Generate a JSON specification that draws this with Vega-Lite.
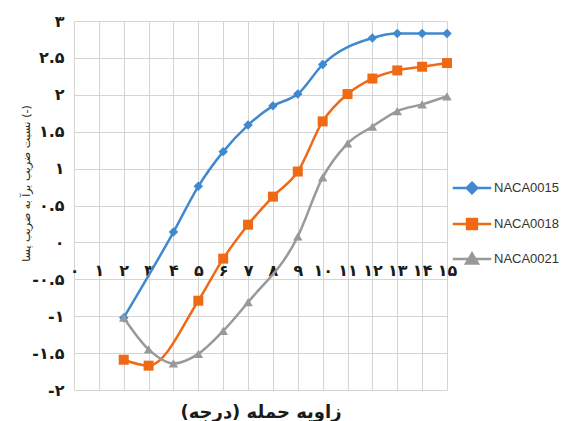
{
  "$schema": "https://vega.github.io/schema/vega-lite/v6.json",
  "width": 373,
  "height": 369,
  "autosize": {"type": "none"},
  "padding": {"left": 74, "top": 21, "right": 115, "bottom": 31},
  "background": "white",
  "config": {"view": {"stroke": null}, "font": "DejaVu Sans"},
  "data": {
    "values": [
      {"airfoil": "NACA0015", "angle": 2, "ratio": -1.02},
      {"airfoil": "NACA0015", "angle": 4, "ratio": 0.14},
      {"airfoil": "NACA0015", "angle": 5, "ratio": 0.76},
      {"airfoil": "NACA0015", "angle": 6, "ratio": 1.23},
      {"airfoil": "NACA0015", "angle": 7, "ratio": 1.59},
      {"airfoil": "NACA0015", "angle": 8, "ratio": 1.85},
      {"airfoil": "NACA0015", "angle": 9, "ratio": 2.01},
      {"airfoil": "NACA0015", "angle": 10, "ratio": 2.41},
      {"airfoil": "NACA0015", "angle": 12, "ratio": 2.77},
      {"airfoil": "NACA0015", "angle": 13, "ratio": 2.83},
      {"airfoil": "NACA0015", "angle": 14, "ratio": 2.83},
      {"airfoil": "NACA0015", "angle": 15, "ratio": 2.83},
      {"airfoil": "NACA0018", "angle": 2, "ratio": -1.59},
      {"airfoil": "NACA0018", "angle": 3, "ratio": -1.67},
      {"airfoil": "NACA0018", "angle": 5, "ratio": -0.79},
      {"airfoil": "NACA0018", "angle": 6, "ratio": -0.22},
      {"airfoil": "NACA0018", "angle": 7, "ratio": 0.24},
      {"airfoil": "NACA0018", "angle": 8, "ratio": 0.62},
      {"airfoil": "NACA0018", "angle": 9, "ratio": 0.96},
      {"airfoil": "NACA0018", "angle": 10, "ratio": 1.64},
      {"airfoil": "NACA0018", "angle": 11, "ratio": 2.01},
      {"airfoil": "NACA0018", "angle": 12, "ratio": 2.22},
      {"airfoil": "NACA0018", "angle": 13, "ratio": 2.33},
      {"airfoil": "NACA0018", "angle": 14, "ratio": 2.38},
      {"airfoil": "NACA0018", "angle": 15, "ratio": 2.43},
      {"airfoil": "NACA0021", "angle": 2, "ratio": -1.02},
      {"airfoil": "NACA0021", "angle": 3, "ratio": -1.45},
      {"airfoil": "NACA0021", "angle": 4, "ratio": -1.64},
      {"airfoil": "NACA0021", "angle": 5, "ratio": -1.51},
      {"airfoil": "NACA0021", "angle": 6, "ratio": -1.2},
      {"airfoil": "NACA0021", "angle": 7, "ratio": -0.81},
      {"airfoil": "NACA0021", "angle": 9, "ratio": 0.08},
      {"airfoil": "NACA0021", "angle": 10, "ratio": 0.88},
      {"airfoil": "NACA0021", "angle": 11, "ratio": 1.34},
      {"airfoil": "NACA0021", "angle": 12, "ratio": 1.57},
      {"airfoil": "NACA0021", "angle": 13, "ratio": 1.78},
      {"airfoil": "NACA0021", "angle": 14, "ratio": 1.87},
      {"airfoil": "NACA0021", "angle": 15, "ratio": 1.98}
    ]
  },
  "encoding": {
    "x": {
      "field": "angle",
      "type": "quantitative",
      "scale": {"domain": [0, 15], "nice": false, "zero": false},
      "axis": {
        "values": [0, 1, 2, 3, 4, 5, 6, 7, 8, 9, 10, 11, 12, 13, 14, 15],
        "labelExpr": "['۰','۱','۲','۳','۴','۵','۶','۷','۸','۹','۱۰','۱۱','۱۲','۱۳','۱۴','۱۵'][datum.value]",
        "offset": -148,
        "grid": true,
        "gridColor": "#d4d4d4",
        "gridWidth": 1,
        "domain": false,
        "ticks": false,
        "labelPadding": 20,
        "labelFontSize": 16,
        "labelFontWeight": "bold",
        "labelColor": "#1a1a1a",
        "labelFlush": false,
        "labelOverlap": false,
        "title": "زاویه حمله (درجه)‏",
        "titleFontSize": 18,
        "titleFontWeight": "bold",
        "titleColor": "#1a1a1a",
        "titleBaseline": "middle",
        "titleY": 170
      }
    },
    "y": {
      "field": "ratio",
      "type": "quantitative",
      "scale": {"domain": [-2, 3], "nice": false, "zero": false},
      "axis": {
        "values": [-2, -1.5, -1, -0.5, 0, 0.5, 1, 1.5, 2, 2.5, 3],
        "labelExpr": "['-۲','-۱.۵','-۱','-۰.۵','۰','۰.۵','۱','۱.۵','۲','۲.۵','۳'][round((datum.value + 2) * 2)]",
        "grid": true,
        "gridColor": "#d4d4d4",
        "gridWidth": 1,
        "domain": false,
        "ticks": false,
        "labelPadding": 10,
        "labelFontSize": 16,
        "labelFontWeight": "bold",
        "labelColor": "#1a1a1a",
        "labelOverlap": false,
        "labelFlush": false,
        "title": "نسبت ضریب برآ به ضریب پسا (-)",
        "titleFontSize": 11,
        "titleFontWeight": "normal",
        "titleColor": "#1a1a1a",
        "titleX": -43,
        "titleY": 162
      }
    },
    "color": {
      "field": "airfoil",
      "type": "nominal",
      "scale": {
        "domain": ["NACA0015", "NACA0018", "NACA0021"],
        "range": ["#4189ce", "#f06a16", "#999999"]
      },
      "legend": {
        "title": null,
        "orient": "none",
        "legendX": 379,
        "legendY": 148,
        "padding": 0,
        "rowPadding": 6,
        "symbolSize": 1225,
        "labelOffset": 3,
        "labelFont": "Liberation Sans",
        "labelFontSize": 13,
        "labelColor": "#333333",
        "encode": {
          "symbols": {
            "update": {
              "shape": {"signal": "datum.value == 'NACA0015' ? 'M-1.1,0H1.1M0,-0.3L0.3,0L0,0.3L-0.3,0Z' : datum.value == 'NACA0018' ? 'M-1.1,0H1.1M-0.28,-0.28H0.28V0.28H-0.28Z' : 'M-1.1,0H1.1M0,-0.32L0.34,0.26L-0.34,0.26Z'"},
              "fill": {"signal": "scale('color', datum.value)"},
              "stroke": {"signal": "scale('color', datum.value)"},
              "strokeWidth": {"value": 2.5},
              "opacity": {"value": 1},
              "fillOpacity": {"value": 1},
              "strokeOpacity": {"value": 1}
            }
          }
        }
      }
    }
  },
  "layer": [
    {
      "mark": {"type": "line", "strokeWidth": 2.5, "interpolate": "monotone"}
    },
    {
      "transform": [{"filter": "datum.airfoil == 'NACA0015'"}],
      "mark": {"type": "point", "shape": "diamond", "filled": true, "opacity": 1, "size": 90}
    },
    {
      "transform": [{"filter": "datum.airfoil == 'NACA0018'"}],
      "mark": {"type": "point", "shape": "square", "filled": true, "opacity": 1, "size": 100}
    },
    {
      "transform": [{"filter": "datum.airfoil == 'NACA0021'"}],
      "mark": {"type": "point", "shape": "triangle-up", "filled": true, "opacity": 1, "size": 90}
    }
  ]
}
